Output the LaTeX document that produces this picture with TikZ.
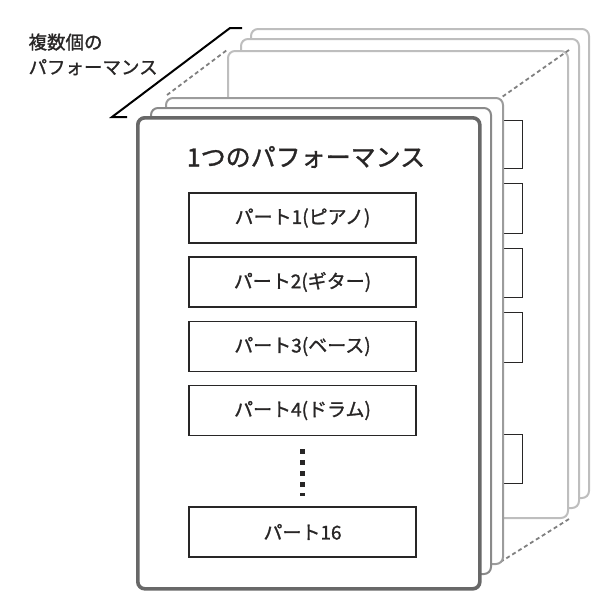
\documentclass[tikz,border=0pt]{standalone}
\usepackage{fontspec}
\setmainfont{Noto Sans CJK JP}[FakeBold=1.2]
\usepackage{tikz}
\usetikzlibrary{positioning}
\usepackage{xcolor}
\definecolor{FrontGray}{RGB}{104,104,104}
\definecolor{MidGray}{RGB}{138,138,138}
\definecolor{PageGray}{RGB}{156,156,156}
\definecolor{BackGray}{RGB}{190,190,190}
\definecolor{DashGray}{RGB}{128,128,128}
\definecolor{InkDark}{RGB}{40,38,38}

\begin{document}
\begin{tikzpicture}[x=1pt,y=-1pt,
  page/.style={draw=BackGray,fill=white,line width=2pt,rounded corners=7pt,
               anchor=north west,inner sep=0pt},
  front/.style={draw=FrontGray,fill=white,line width=3.6pt,rounded corners=7pt,
                anchor=north west,inner sep=0pt,minimum width=342pt,minimum height=471pt},
  tabbox/.style={draw=InkDark,fill=white,line width=1pt,anchor=north west,
                 inner sep=0pt,minimum width=19pt},
  partbox/.style={draw=InkDark,fill=white,line width=1.2pt,minimum width=227pt,
                  minimum height=50pt,inner sep=0pt,text=InkDark,
                  font=\fontsize{19}{22}\selectfont},
  linkdash/.style={draw=DashGray,line width=1.8pt,dash pattern=on 4pt off 3pt},
]
\useasboundingbox (0,0) rectangle (612,603);
% stack of performances behind
\node[page,minimum width=338pt,minimum height=469pt] (pg6) at (250,28) {};
\node[page,minimum width=338pt,minimum height=469pt] (pg5) at (240,38) {};
\node[page,minimum width=340pt,minimum height=467pt] (pg4) at (227,50) {};
\draw[linkdash] (167,95) -- (pg4.north west);
\draw[linkdash] (pg4.north east) -- (502,97);
\draw[linkdash] (pg4.south east) -- (502,561);
\node[tabbox,minimum height=48pt] (tab1) at (503,120) {};
\node[tabbox,minimum height=50pt] (tab2) at (503,183) {};
\node[tabbox,minimum height=49pt] (tab3) at (503,248) {};
\node[tabbox,minimum height=50pt] (tab4) at (503,312) {};
\node[tabbox,minimum height=49pt] (tab5) at (503,434) {};
\node[page,draw=PageGray,minimum width=337pt,minimum height=466pt] (pg3) at (165,97) {};
\node[page,draw=MidGray,minimum width=340pt,minimum height=466pt] (pg2) at (150,107) {};
% one performance
\node[front] (one) at (136,116) {};
\node[text=InkDark,font=\fontsize{25}{30}\selectfont] (title) at (306,157) {1つのパフォーマンス};
\node[partbox] (part1) at (302.5,218) {パート1(ピアノ)};
\node[partbox] (part2) at (302.5,282) {パート2(ギター)};
\node[partbox] (part3) at (302.5,346.5) {パート3(ベース)};
\node[partbox] (part4) at (302.5,410.5) {パート4(ドラム)};
\node[partbox] (part16) at (302.5,532) {パート16};
\draw[InkDark,line width=5pt,dash pattern=on 5pt off 6pt]
  ([yshift=-13pt]part4.south) -- ([yshift=10pt]part16.north);
% label
\node[anchor=north west,align=left,text=InkDark,
      font=\fontsize{18.5}{25}\selectfont] (multi) at (25,30) {複数個の\\パフォーマンス};
\coordinate (ldA) at (127,117);
\coordinate (ldB) at (112,117);
\coordinate (ldC) at (230,28);
\coordinate (ldD) at (242,28);
\draw[black,line width=2pt] (ldA) -- (ldB) -- (ldC) -- (ldD);
\end{tikzpicture}
\end{document}
